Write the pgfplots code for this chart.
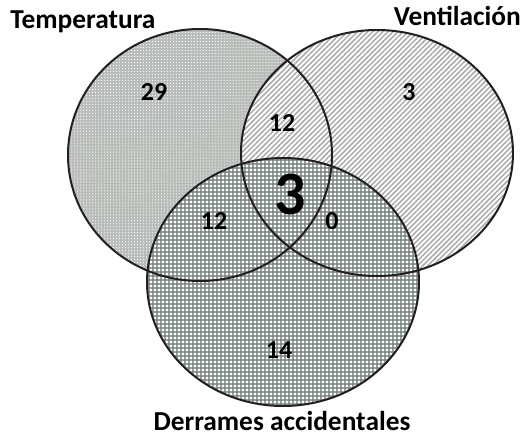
\documentclass[border=0pt]{standalone}
\usepackage{pgfplots}
\pgfplotsset{compat=1.18}
\usepackage{fontspec}
\setmainfont{Carlito}
\usetikzlibrary{patterns.meta}
\definecolor{edge}{HTML}{231F20}
\definecolor{tempbg}{HTML}{B8BDB9}
\definecolor{ventline}{HTML}{A9ABAA}
\definecolor{derrbg}{HTML}{7C8782}
\begin{document}
\begin{tikzpicture}
\begin{axis}[width=524bp,height=445bp,scale only axis,
  xmin=0,xmax=524,ymin=0,ymax=445,y dir=reverse,
  hide axis,clip=false]
% Temperatura
\fill[tempbg] (axis cs:200,155) ellipse[x radius=132,y radius=126];
\path[pattern={Dots[radius=0.6pt,distance=3pt]},pattern color=white] (axis cs:200,155) ellipse[x radius=132,y radius=126];
% Ventilacion
\fill[white] (axis cs:377,153) ellipse[x radius=136,y radius=123];
\path[pattern={Lines[angle=45,distance=3.6pt,line width=1.5pt]},pattern color=ventline] (axis cs:377,153) ellipse[x radius=136,y radius=123];
% Derrames
\fill[derrbg] (axis cs:283,282) ellipse[x radius=136,y radius=124];
\path[pattern={Dots[radius=1.55pt,distance=4pt]},pattern color=white] (axis cs:283,282) ellipse[x radius=136,y radius=124];
% outlines
\draw[edge,line width=2pt] (axis cs:200,155) ellipse[x radius=132,y radius=126];
\draw[edge,line width=2pt] (axis cs:377,153) ellipse[x radius=136,y radius=123];
\draw[edge,line width=2pt] (axis cs:283,282) ellipse[x radius=136,y radius=124];
% counts
\addplot[draw=none,mark=none,nodes near coords,point meta=explicit symbolic,
  nodes near coords align=center,
  nodes near coords style={font=\bfseries\fontsize{26}{26}\selectfont,text=black,inner sep=0pt,anchor=center}]
  coordinates {(154,92)[29] (409,92)[3] (282,123)[12] (214,221)[12] (332,221)[0] (279,350)[14]};
\addplot[draw=none,mark=none,nodes near coords,point meta=explicit symbolic,
  nodes near coords align=center,
  nodes near coords style={font=\bfseries\fontsize{62}{62}\selectfont,text=black,inner sep=0pt,anchor=center}]
  coordinates {(290,194)[3]};
% set names
\node[anchor=base,font=\bfseries\fontsize{27.5}{27.5}\selectfont,inner sep=0pt] at (axis cs:83,29) {Temperatura};
\node[anchor=base east,font=\bfseries\fontsize{27.5}{27.5}\selectfont,inner sep=0pt] at (axis cs:521,26) {Ventilación};
\node[anchor=base,font=\bfseries\fontsize{27.5}{27.5}\selectfont,inner sep=0pt] at (axis cs:282,430) {Derrames accidentales};
\end{axis}
\pgfresetboundingbox
\path[use as bounding box] (current axis.south west) rectangle (current axis.north east);
\end{tikzpicture}
\end{document}
